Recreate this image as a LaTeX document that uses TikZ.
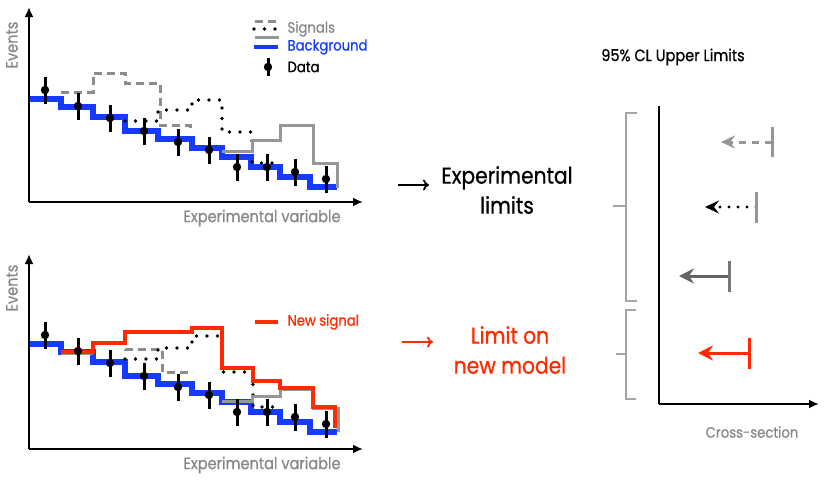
\documentclass[tikz,border=0pt]{standalone}
\usepackage{fontspec}
\setmainfont{Poppins}[FakeStretch=0.88,FakeBold=0.7]
\usetikzlibrary{arrows.meta}
\definecolor{bkblue}{RGB}{22,58,255}
\definecolor{sgray}{RGB}{140,140,140}
\definecolor{sgray2}{RGB}{150,150,150}
\definecolor{lblgray}{RGB}{135,135,135}
\definecolor{nred}{RGB}{255,42,0}
\definecolor{dgray}{RGB}{100,100,100}
\definecolor{brgray}{RGB}{165,165,165}
\begin{document}
\begin{tikzpicture}[x=1pt,y=-1pt,
  axis/.style={line width=2.5pt,-{Latex[length=10pt,width=9pt]}},
  bkg/.style={bkblue,line width=5.5pt},
  sigdash/.style={sgray,line width=3pt,dash pattern=on 8pt off 5pt},
  sigdot/.style={black,line width=3.6pt,line cap=round,dash pattern=on 0pt off 10.5pt},
  sigsolid/.style={sgray2,line width=3pt},
  newsig/.style={nred,line width=3.5pt},
  errbar/.style={line width=3pt},
  axlabel/.style={lblgray,font=\fontsize{16.5}{18}\selectfont},
  legtext/.style={anchor=west,font=\fontsize{15}{17}\selectfont},
  bigtext/.style={align=center,font=\fontsize{23}{30}\selectfont},
  limarrow/.style={line width=3pt,-{Stealth[length=15pt,width=15pt,inset=5pt]}},
  limbar/.style={line width=3pt},
  bracket/.style={brgray,line width=1.5pt}
]
\useasboundingbox (0,0) rectangle (830,483);

% ---------------- top plot ----------------
\draw[axis] (29,202) -- (29,7);
\draw[axis] (29,202) -- (363,202);
\node[axlabel,rotate=90] (evt1) at (12,45) {Events};
\node[axlabel] (xv1) at (262,218) {Experimental variable};

\draw[bkg] (30,99)--(61,99)--(61,107)--(93,107)--(93,117)--(125,117)--(125,131)--(158,131)--(158,139)--(192,139)--(192,148)--(222,148)--(222,157)--(251,157)--(251,167)--(280,167)--(280,177)--(310,177)--(310,187)--(337,187);
\draw[sigdash] (61,92)--(93,92)--(93,73)--(125,73)--(125,83)--(160,83)--(160,125)--(190,125)--(190,132);
\draw[sigdot] (125,121)--(158,121)--(158,110)--(192,110)--(192,100)--(222,100)--(222,132)--(252,132)--(252,163)--(281,163);
\draw[sigsolid] (222,151)--(252,151)--(252,140)--(280,140)--(280,125)--(313,125)--(313,163)--(337,163)--(337,188);

\foreach \x/\y in {45/90,78/106,110/118,144/131,178/142,209/150,237/167,267/167,295/172,326/179}{
  \draw[errbar] (\x,\y-13.5) -- (\x,\y+13.5);
  \fill (\x,\y) circle[radius=4.2pt];
}

% legend top
\draw[sgray,line width=3pt,dash pattern=on 8pt off 5pt] (255,21) -- (280,21);
\draw[black,line width=3.6pt,line cap=round,dash pattern=on 0pt off 10.5pt] (254,29) -- (277,29);
\draw[sgray2,line width=3pt] (255,37) -- (279,37);
\draw[bkblue,line width=4pt] (254,47) -- (278,47);
\draw[errbar] (268,58) -- (268,76);
\fill (268,67) circle[radius=4.2pt];
\node[legtext,lblgray] (lsig) at (284,29) {Signals};
\node[legtext,bkblue] (lbkg) at (284,47) {Background};
\node[legtext] (ldat) at (284,67) {Data};

% ---------------- bottom plot ----------------
\draw[axis] (29,449) -- (29,254);
\draw[axis] (29,449) -- (363,449);
\node[axlabel,rotate=90] (evt2) at (12,288) {Events};
\node[axlabel] (xv2) at (262,465) {Experimental variable};

\begin{scope}[shift={(0,245)}]
\draw[bkg] (30,99)--(61,99)--(61,107)--(93,107)--(93,117)--(125,117)--(125,131)--(158,131)--(158,139)--(192,139)--(192,148)--(222,148)--(222,157)--(251,157)--(251,167)--(280,167)--(280,177)--(310,177)--(310,187)--(337,187);
\end{scope}
\draw[sgray2,line width=3pt] (61,353)--(93,353);
\draw[sigdash] (93,342)--(125,342)--(125,349)--(162,349)--(162,372)--(193,372);
\draw[sigdot] (125,359)--(158,359)--(158,348)--(192,348)--(192,336)--(222,336)--(222,372)--(253,372)--(253,407)--(281,407);
\draw[sigsolid] (222,401)--(252,401)--(252,396)--(280,396)--(280,389)--(313,389)--(313,408)--(338,408)--(338,432);
\draw[newsig] (61,352)--(93,352)--(93,343)--(125,343)--(125,332)--(192,332)--(192,328)--(222,328)--(222,368)--(253,368)--(253,381)--(280,381)--(280,388)--(313,388)--(313,407)--(335,407)--(335,428);

\begin{scope}[shift={(0,245)}]
\foreach \x/\y in {45/90,78/106,110/118,144/131,178/142,209/150,237/167,267/167,295/172,326/179}{
  \draw[errbar] (\x,\y-13.5) -- (\x,\y+13.5);
  \fill (\x,\y) circle[radius=4.2pt];
}
\end{scope}

\draw[nred,line width=4pt] (255,322) -- (278,322);
\node[legtext,nred] (lnew) at (284,322) {New signal};

% ---------------- middle ----------------
\coordinate (a1s) at (398,185);
\coordinate (a1e) at (429,185);
\draw[line width=1.8pt,-{To[length=6pt,width=11pt]}] (a1s) -- (a1e);
\node[bigtext] (explim) at (507,190) {Experimental\\limits};

\coordinate (a2s) at (402,342);
\coordinate (a2e) at (433,342);
\draw[nred,line width=1.8pt,-{To[length=6pt,width=11pt]}] (a2s) -- (a2e);
\node[bigtext,nred] (newlim) at (510,350) {Limit on\\new model};

% ---------------- right plot ----------------
\node[font=\fontsize{16.5}{18}\selectfont] (title) at (673,57) {95\% CL Upper Limits};
\coordinate (o) at (659,404);
\draw[line width=2.5pt] (659,106) -- (o);
\draw[axis] (o) -- (819,404);
\node[axlabel,font=\fontsize{15}{17}\selectfont] (xs) at (752,432) {Cross-section};

\draw[bracket] (637,113) -- (626,113) -- (626,301) -- (637,301);
\draw[bracket] (613,206) -- (626,206);
\draw[bracket] (636,310) -- (626,310) -- (626,399) -- (636,399);
\draw[bracket] (616,354) -- (626,354);

% limits
\coordinate (l1) at (772,142); \coordinate (t1) at (721,142);
\draw[sgray2,line width=3pt,dash pattern=on 7pt off 6pt,-{Stealth[length=14pt,width=13pt,inset=5pt]}] (l1) -- (t1);
\draw[limbar,sgray2] (772,127) -- (772,157);

\coordinate (l2) at (756,207); \coordinate (t2) at (705,207);
\draw[black,line width=3.4pt,line cap=round,dash pattern=on 0pt off 9pt,-{Stealth[length=14pt,width=13pt,inset=5pt]}] (l2) -- (t2);
\draw[limbar,sgray2] (756,192) -- (756,223);

\coordinate (l3) at (729,276); \coordinate (t3) at (679,276);
\draw[limarrow,dgray] (l3) -- (t3);
\draw[limbar,color={rgb,255:red,120;green,120;blue,120}] (729,261) -- (729,292);

\coordinate (l4) at (749,353); \coordinate (t4) at (698,353);
\draw[limarrow,nred] (l4) -- (t4);
\draw[limbar,nred] (749,338) -- (749,369);
\end{tikzpicture}
\end{document}
